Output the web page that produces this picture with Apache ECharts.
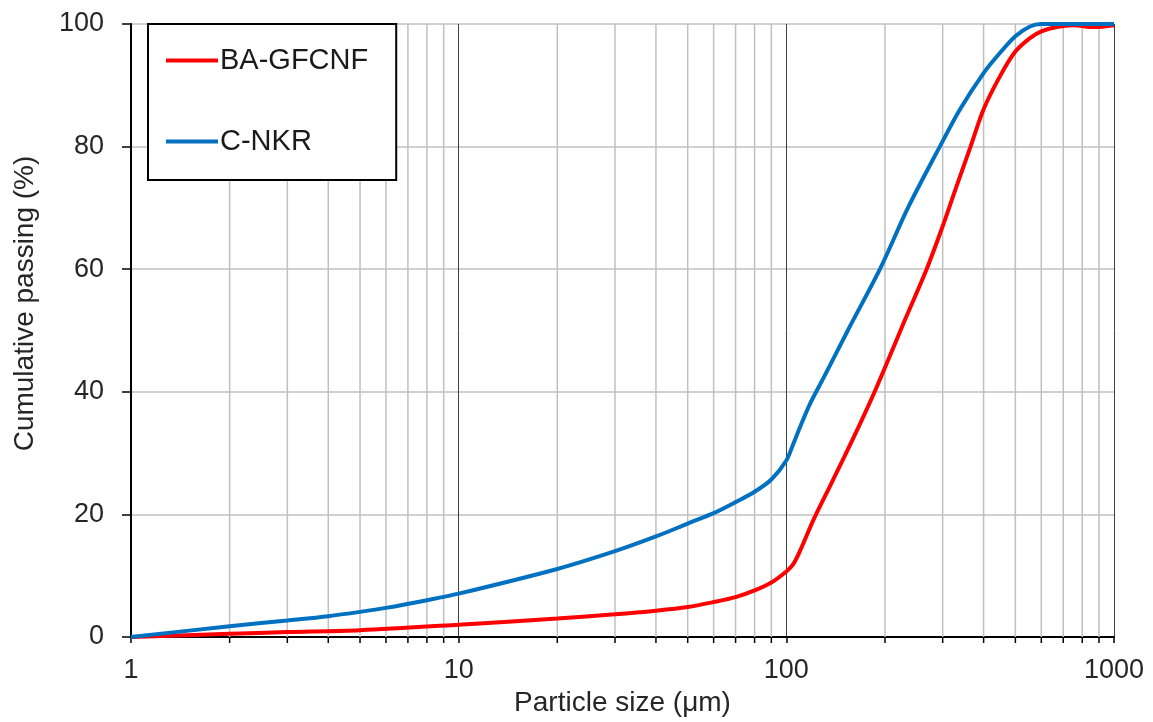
<!DOCTYPE html>
<html>
<head>
<meta charset="utf-8">
<script src="https://cdn.jsdelivr.net/npm/echarts@6/dist/echarts.min.js"></script>
<style>
  html, body { margin: 0; padding: 0; background: #fff; }
  #chart { width: 1153px; height: 722px; }
</style>
</head>
<body>
<div id="chart"></div>
<script>
// particle size (um) vs cumulative passing (%)
const redSizes = [1, 2, 3, 5, 10, 20, 30, 40, 50, 60, 70, 80, 90, 100, 105, 110, 121, 135, 150, 168, 186, 205, 230, 268, 300, 330, 365, 400, 449, 500, 554, 600, 668, 750, 870, 1000];
const redPassing = [0, 0.53, 0.8, 1.1, 2.0, 3.0, 3.7, 4.3, 4.9, 5.7, 6.5, 7.6, 8.9, 10.7, 11.9, 14.0, 19.1, 24.3, 29.3, 34.8, 40, 45.3, 51.7, 60, 67, 73.4, 80, 86.1, 91.5, 95.5, 97.7, 98.8, 99.5, 99.8, 99.5, 99.8];

const blueSizes = [1, 2, 3, 4, 5, 6, 8, 10, 20, 30, 40, 50, 60, 70, 80, 90, 100, 105, 111, 118, 130, 154, 193, 235, 294, 339, 400, 449, 500, 554, 600, 1000];
const bluePassing = [0, 1.75, 2.7, 3.4, 4.1, 4.75, 6.0, 7.07, 11.1, 14.0, 16.4, 18.5, 20.2, 22.0, 23.7, 25.7, 28.8, 31.5, 34.7, 38, 42.3, 50, 60, 70, 80, 86.1, 92, 95.3, 98, 99.6, 100, 100];

const minorTicks = [2, 3, 4, 5, 6, 7, 8, 9, 20, 30, 40, 50, 60, 70, 80, 90, 200, 300, 400, 500, 600, 700, 800, 900];
const yTicks = { min: 0, max: 100, interval: 20 };

const zip = (xs, ys) => xs.map((x, i) => [x, ys[i]]);

const chart = echarts.init(document.getElementById('chart'));

chart.setOption({
  animation: false,
  textStyle: { fontFamily: 'Liberation Sans, Arial, sans-serif' },
  grid: { left: 131, right: 39, top: 24, bottom: 81 },
  legend: {
    data: ['BA-GFCNF', 'C-NKR'],
    orient: 'vertical',
    left: 148,
    top: 24,
    padding: [22, 28, 24, 18],
    itemGap: 52,
    itemWidth: 52,
    itemHeight: 4,
    icon: 'rect',
    backgroundColor: '#fff',
    borderColor: '#000',
    borderWidth: 2,
    borderRadius: 0,
    textStyle: { fontSize: 29, color: '#1a1a1a', padding: [0, 0, 0, -3] }
  },
  xAxis: {
    type: 'log',
    logBase: 10,
    min: 1,
    max: 1000,
    name: 'Particle size (μm)',
    nameLocation: 'middle',
    nameGap: 52,
    nameTextStyle: { fontSize: 28, color: '#262626' },
    axisLine: { lineStyle: { color: '#000', width: 2 } },
    axisTick: { length: 6, lineStyle: { color: '#000', width: 1.5 } },
    axisLabel: {
      fontSize: 27,
      color: '#262626',
      margin: 20,
      formatter: v => String(Math.round(v))
    },
    splitLine: { show: true, lineStyle: { color: '#404040', width: 1 } }
  },
  yAxis: {
    type: 'value',
    min: yTicks.min,
    max: yTicks.max,
    interval: yTicks.interval,
    name: 'Cumulative passing (%)',
    nameLocation: 'middle',
    nameGap: 92,
    nameTextStyle: { fontSize: 28, color: '#262626', padding: [0, 0, 0, 54] },
    axisLine: { show: true, lineStyle: { color: '#000', width: 2 } },
    axisTick: { show: true, length: 9, lineStyle: { color: '#000', width: 1.5 } },
    axisLabel: { fontSize: 27, color: '#262626', margin: 27 },
    splitLine: { lineStyle: { color: '#c0c0c0', width: 1.5 } }
  },
  series: [
    {
      // minor log gridlines + ticks
      type: 'custom',
      name: 'minor',
      silent: true,
      z: 1,
      clip: false,
      data: minorTicks.map(v => [v, 0]),
      encode: { x: 0, y: 1 },
      renderItem: (params, api) => {
        const v = api.value(0);
        const bottom = api.coord([v, yTicks.min]);
        const top = api.coord([v, yTicks.max]);
        return {
          type: 'group',
          children: [
            {
              type: 'line',
              shape: { x1: top[0], y1: top[1], x2: bottom[0], y2: bottom[1] },
              style: { stroke: '#c0c0c0', lineWidth: 1.5 }
            },
            {
              type: 'line',
              shape: { x1: bottom[0], y1: bottom[1], x2: bottom[0], y2: bottom[1] + 6 },
              style: { stroke: '#000', lineWidth: 1.5 }
            }
          ]
        };
      }
    },
    {
      name: 'BA-GFCNF',
      type: 'line',
      smooth: 0.3,
      showSymbol: false,
      z: 3,
      itemStyle: { color: '#ff0000' },
      lineStyle: { color: '#ff0000', width: 4 },
      data: zip(redSizes, redPassing)
    },
    {
      name: 'C-NKR',
      type: 'line',
      smooth: 0.3,
      showSymbol: false,
      z: 4,
      itemStyle: { color: '#0070c0' },
      lineStyle: { color: '#0070c0', width: 4 },
      data: zip(blueSizes, bluePassing)
    }
  ]
});
</script>
</body>
</html>
